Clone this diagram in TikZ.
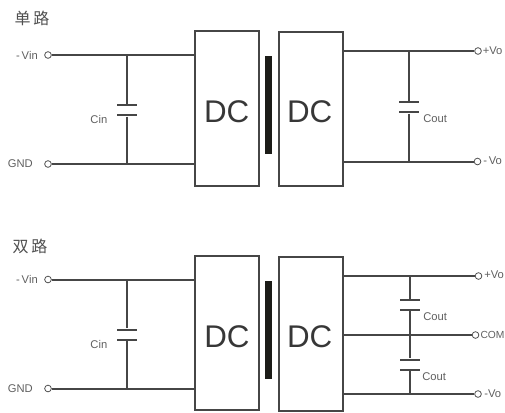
\documentclass[tikz,border=0pt]{standalone}
\usepackage{fontspec}
\setmainfont{Liberation Sans}
\newfontfamily\cjk{Noto Sans CJK SC}
\usepackage{tikz}

\tikzset{
  wire/.style={draw={rgb, 255:red, 70; green, 70; blue, 70 },line width=1.5pt},
  dcbox/.style={draw={rgb, 255:red, 70; green, 70; blue, 70 },line width=1.5pt,inner sep=0pt,minimum width=48pt,minimum height=116pt},
  core/.style={fill={rgb, 255:red, 28; green, 28; blue, 24 },inner sep=0pt,minimum width=5.6pt,minimum height=73.5pt},
  plate/.style={fill={rgb, 255:red, 70; green, 70; blue, 70 },inner sep=0pt,minimum width=15pt,minimum height=1.5pt},
  term/.style={circle,draw={rgb, 255:red, 80; green, 80; blue, 80 },line width=0.6pt,fill=white,inner sep=0pt,minimum size=5pt},
  lbl/.style={inner sep=0.75pt,text={rgb, 255:red, 95; green, 95; blue, 95 },font=\fontsize{8.4}{10}\selectfont},
  dctext/.style={inner sep=0pt,text={rgb, 255:red, 55; green, 55; blue, 55 },font=\fontsize{23.5}{26}\selectfont},
  title/.style={inner sep=0pt,text={rgb, 255:red, 80; green, 80; blue, 80 },font=\fontsize{12}{14}\selectfont\cjk}
}

\begin{document}
\begin{tikzpicture}[x=0.75pt,y=0.75pt,yscale=-1,xscale=1]
\useasboundingbox (0,0) rectangle (505,412);

%Single output: blocks
\node (boxa) [dcbox] at (227,108.5) {};
\node (boxb) [dcbox] at (310.7,109) {};
\node (corea) [core] at (268.3,105) {};
%Single output: terminals
\node (vina) [term] at (48,55) {};
\node (gnda) [term] at (48,164) {};
\node (vop) [term] at (478,51) {};
\node (von) [term] at (477.5,161.5) {};
%Single output: capacitors
\node (cina) [plate] at (126.5,105) {};
\node (cinb) [plate] at (126.5,115.3) {};
\node (couta) [plate] at (409.3,102) {};
\node (coutb) [plate] at (409.3,112.3) {};
%Single output: wires
\draw [wire] (vina) -- (boxa.west |- vina);
\draw [wire] (gnda) -- (boxa.west |- gnda);
\draw [wire] (boxb.east |- vop) -- (vop);
\draw [wire] (boxb.east |- von) -- (von);
\draw [wire] (cina.north) -- (cina |- vina);
\draw [wire] (cinb.south) -- (cinb |- gnda);
\draw [wire] (couta.north) -- (couta |- vop);
\draw [wire] (coutb.south) -- (coutb |- von);

%Dual output: blocks
\node (boxc) [dcbox] at (227,333) {};
\node (boxd) [dcbox] at (310.7,334) {};
\node (coreb) [core] at (268.6,329.5) {};
%Dual output: terminals
\node (vinc) [term] at (48,279.5) {};
\node (gndc) [term] at (48,388.5) {};
\node (vopd) [term] at (478.5,276) {};
\node (com) [term] at (475.5,335) {};
\node (vond) [term] at (478,394) {};
%Dual output: capacitors
\node (cinc) [plate] at (126.8,329.5) {};
\node (cind) [plate] at (126.8,339.7) {};
\node (coutc) [plate] at (409.5,300) {};
\node (coutd) [plate] at (409.5,310) {};
\node (coute) [plate] at (409.5,359.5) {};
\node (coutf) [plate] at (409.5,370) {};
%Dual output: wires
\draw [wire] (vinc) -- (boxc.west |- vinc);
\draw [wire] (gndc) -- (boxc.west |- gndc);
\draw [wire] (boxd.east |- vopd) -- (vopd);
\draw [wire] (boxd.east |- com) -- (com);
\draw [wire] (boxd.east |- vond) -- (vond);
\draw [wire] (cinc.north) -- (cinc |- vinc);
\draw [wire] (cind.south) -- (cind |- gndc);
\draw [wire] (coutc.north) -- (coutc |- vopd);
\draw [wire] (coutd.south) -- (coute.north);
\draw [wire] (coutf.south) -- (coutf |- vond);

% Text Node
\draw (32,18) node (titlea) [title] {单\,路};
\draw (30,246) node (titleb) [title] {双\,路};
\draw (226.7,112) node (dca) [dctext] {DC};
\draw (309.7,112) node (dcb) [dctext] {DC};
\draw (226.9,337) node (dcc) [dctext] {DC};
\draw (309.7,337) node (dcd) [dctext] {DC};
% Text Node
\draw (39,55) node (tvina) [lbl,anchor=east] {-\,Vin};
\draw (34,164) node (tgnda) [lbl,anchor=east] {GND};
\draw (108.5,119) node (tcina) [lbl,anchor=east] {Cin};
\draw (422,119) node (tcouta) [lbl,anchor=west] {Cout};
\draw (481.5,51) node (tvop) [lbl,anchor=west] {+Vo};
\draw (482,161) node (tvon) [lbl,anchor=west] {-\,Vo};
% Text Node
\draw (39,279.5) node (tvinc) [lbl,anchor=east] {-\,Vin};
\draw (34,388.5) node (tgndc) [lbl,anchor=east] {GND};
\draw (108.5,344.5) node (tcinc) [lbl,anchor=east] {Cin};
\draw (422,317) node (tcoutc) [lbl,anchor=west] {Cout};
\draw (421,377) node (tcoute) [lbl,anchor=west] {Cout};
\draw (483,275) node (tvopd) [lbl,anchor=west] {+Vo};
\draw (479.3,334.5) node (tcom) [lbl,anchor=west,font=\fontsize{7.7}{10}\selectfont] {COM};
\draw (483,393.5) node (tvond) [lbl,anchor=west] {-Vo};

\end{tikzpicture}
\end{document}
